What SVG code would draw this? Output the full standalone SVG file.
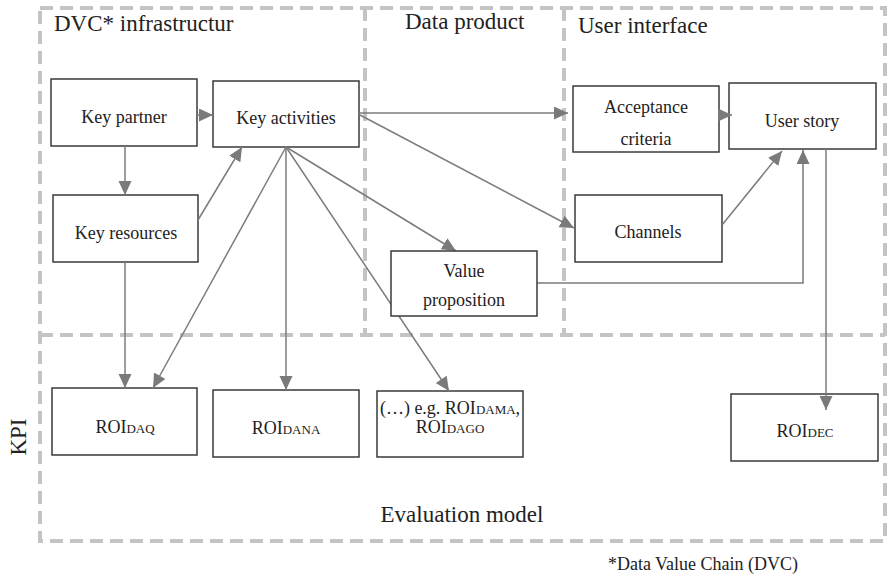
<svg xmlns="http://www.w3.org/2000/svg" width="889" height="580" viewBox="0 0 889 580">
  <style>
    .frame { fill: none; stroke: #c4c4c4; stroke-width: 4; stroke-dasharray: 13 7; }
    .box { fill: #ffffff; stroke: #3a3a3a; stroke-width: 1.5; }
    text { font-family: 'Liberation Serif', 'DejaVu Serif', 'Times New Roman', serif; fill: #222; }
    .lbl { font-size: 18px; text-anchor: middle; }
    .sc { font-size: 13px; }
    .title { font-size: 23px; }
    .mid { text-anchor: middle; }
    .edge { fill: none; stroke: #7c7c7c; stroke-width: 1.5; }
  </style>
  <defs>
    <marker id="arrow" markerUnits="userSpaceOnUse" markerWidth="15" markerHeight="14" refX="14" refY="6.5" orient="auto">
      <path d="M0,0 L14,6.5 L0,13 z" fill="#7a7a7a"/>
    </marker>
  </defs>

  <rect width="889" height="580" fill="#ffffff"/>

  <!-- dashed section frames -->
  <g id="frames">
    <rect class="frame" x="40" y="8" width="845" height="533"/>
    <line class="frame" x1="40" y1="335" x2="885" y2="335"/>
    <line class="frame" x1="365" y1="8" x2="365" y2="335"/>
    <line class="frame" x1="564" y1="8" x2="564" y2="335"/>
  </g>

  <!-- section titles -->
  <g id="titles">
    <text class="title" x="54" y="31">DVC* infrastructur</text>
    <text class="title" x="405" y="29">Data product</text>
    <text class="title" x="578" y="33">User interface</text>
    <text class="title mid" x="462" y="522">Evaluation model</text>
    <text class="title mid" transform="translate(26,437) rotate(-90)">KPI</text>
    <text class="lbl" x="703" y="570">*Data Value Chain (DVC)</text>
  </g>

  <!-- nodes (value proposition is drawn above the connectors) -->
  <g id="key-partner">
    <rect class="box" x="51" y="79" width="146" height="67"/>
    <text class="lbl" x="124" y="123">Key partner</text>
  </g>
  <g id="key-activities">
    <rect class="box" x="213" y="81" width="146" height="66"/>
    <text class="lbl" x="286" y="124">Key activities</text>
  </g>
  <g id="key-resources">
    <rect class="box" x="53" y="195" width="145" height="67"/>
    <text class="lbl" x="126" y="239">Key resources</text>
  </g>
  <g id="acceptance-criteria">
    <rect class="box" x="573" y="86" width="146" height="66"/>
    <text class="lbl" x="646" y="113">Acceptance</text>
    <text class="lbl" x="646" y="145">criteria</text>
  </g>
  <g id="user-story">
    <rect class="box" x="729" y="83" width="147" height="66"/>
    <text class="lbl" x="802" y="127">User story</text>
  </g>
  <g id="channels">
    <rect class="box" x="575" y="195" width="147" height="67"/>
    <text class="lbl" x="648" y="238">Channels</text>
  </g>
  <g id="roi-daq">
    <rect class="box" x="52" y="388" width="145" height="67"/>
    <text class="lbl" x="125" y="433">ROI<tspan class="sc">DAQ</tspan></text>
  </g>
  <g id="roi-dana">
    <rect class="box" x="213" y="390" width="146" height="67"/>
    <text class="lbl" x="286" y="434">ROI<tspan class="sc">DANA</tspan></text>
  </g>
  <g id="roi-other">
    <rect class="box" x="377" y="391" width="146" height="66"/>
    <text class="lbl" x="450" y="414">(…) e.g. ROI<tspan class="sc">DAMA</tspan>,</text>
    <text class="lbl" x="450" y="433">ROI<tspan class="sc">DAGO</tspan></text>
  </g>
  <g id="roi-dec">
    <rect class="box" x="731" y="394" width="147" height="67"/>
    <text class="lbl" x="805" y="437">ROI<tspan class="sc">DEC</tspan></text>
  </g>

  <!-- connectors -->
  <g id="connectors">
    <line class="edge" x1="197" y1="115" x2="213" y2="115" marker-end="url(#arrow)"/>
    <line class="edge" x1="125" y1="146" x2="125" y2="195" marker-end="url(#arrow)"/>
    <line class="edge" x1="198" y1="220" x2="242" y2="147" marker-end="url(#arrow)"/>
    <line class="edge" x1="359" y1="113" x2="568" y2="113" marker-end="url(#arrow)"/>
    <line class="edge" x1="719" y1="115" x2="732" y2="115" marker-end="url(#arrow)"/>
    <line class="edge" x1="360" y1="115" x2="574" y2="228" marker-end="url(#arrow)"/>
    <line class="edge" x1="722" y1="225" x2="782" y2="151" marker-end="url(#arrow)"/>
    <polyline class="edge" points="537,283 803,283 803,150" marker-end="url(#arrow)"/>
    <line class="edge" x1="286" y1="147" x2="153" y2="388" marker-end="url(#arrow)"/>
    <line class="edge" x1="286" y1="147" x2="286" y2="390" marker-end="url(#arrow)"/>
    <line class="edge" x1="286" y1="147" x2="449" y2="391" marker-end="url(#arrow)"/>
    <line class="edge" x1="286" y1="147" x2="456" y2="251" marker-end="url(#arrow)"/>
    <line class="edge" x1="125" y1="262" x2="125" y2="388" marker-end="url(#arrow)"/>
    <line class="edge" x1="826" y1="149" x2="826" y2="410" marker-end="url(#arrow)"/>
  </g>

  <g id="value-proposition">
    <rect class="box" x="391" y="251" width="146" height="65"/>
    <text class="lbl" x="464" y="277">Value</text>
    <text class="lbl" x="464" y="306">proposition</text>
  </g>
</svg>
